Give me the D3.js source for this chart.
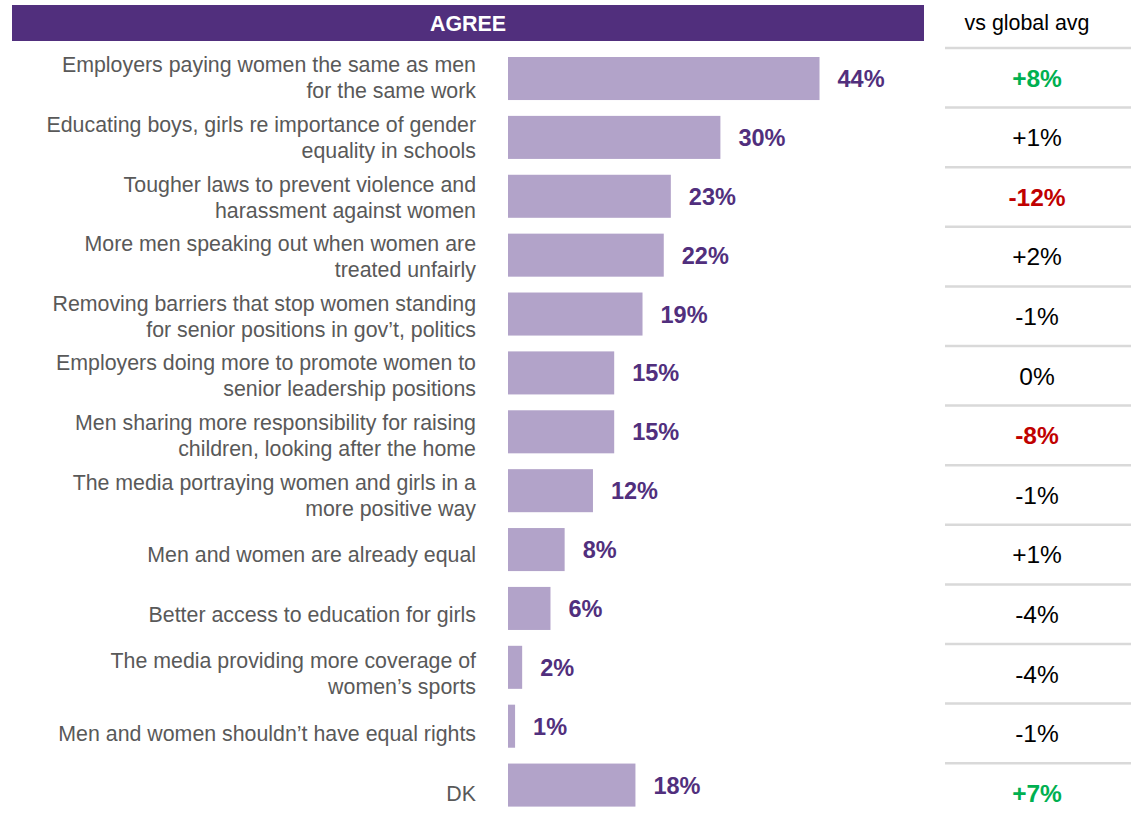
<!DOCTYPE html>
<html>
<head>
<meta charset="utf-8">
<script src="https://cdn.jsdelivr.net/npm/d3@7"></script>
<style>
  html, body { margin: 0; padding: 0; background: #ffffff; }
  svg { display: block; font-family: "Liberation Sans", Arial, sans-serif; }
</style>
</head>
<body>
<svg id="chart" width="1134" height="820"></svg>
<script>
// Survey items (line breaks mark where each label wraps)
const categories = [
  "Employers paying women the same as men\nfor the same work",
  "Educating boys, girls re importance of gender\nequality in schools",
  "Tougher laws to prevent violence and\nharassment against women",
  "More men speaking out when women are\ntreated unfairly",
  "Removing barriers that stop women standing\nfor senior positions in gov\u2019t, politics",
  "Employers doing more to promote women to\nsenior leadership positions",
  "Men sharing more responsibility for raising\nchildren, looking after the home",
  "The media portraying women and girls in a\nmore positive way",
  "Men and women are already equal",
  "Better access to education for girls",
  "The media providing more coverage of\nwomen\u2019s sports",
  "Men and women shouldn\u2019t have equal rights",
  "DK"
];

// Share agreeing (%)
const agreeValues = [44, 30, 23, 22, 19, 15, 15, 12, 8, 6, 2, 1, 18];

// Difference from the global average (percentage points)
const vsGlobal = [8, 1, -12, 2, -1, 0, -8, -1, 1, -4, -4, -1, 7];

const headerLabel = "AGREE";
const diffHeader = "vs global avg";

const svg = d3.select("#chart");
const rows = d3.range(categories.length);

// Grid for the item labels and the comparison column
const yRow = d3.scaleBand()
  .domain(rows)
  .range([48, 48 + 59.6 * categories.length]);

// Grid for the bars (slightly tighter than the label rows)
const yBar = d3.scaleBand()
  .domain(rows)
  .range([57, 806.6])
  .paddingInner(0.269)
  .paddingOuter(0);

const x = d3.scaleLinear().domain([0, 100]).range([508, 508 + 708]);

const rowMid = i => yRow(i) + yRow.bandwidth() / 2;
const barMid = i => yBar(i) + yBar.bandwidth() / 2;

// Header band
svg.append("rect")
  .attr("x", 12).attr("y", 5).attr("width", 912).attr("height", 36)
  .attr("fill", "#512f7d");
svg.append("text")
  .attr("x", 468).attr("y", 23).attr("dy", "0.36em")
  .attr("text-anchor", "middle")
  .attr("fill", "#ffffff").attr("font-weight", "bold").attr("font-size", 21.4)
  .text(headerLabel);

svg.append("text")
  .attr("x", 1027).attr("y", 22).attr("dy", "0.36em")
  .attr("text-anchor", "middle")
  .attr("fill", "#000000").attr("font-size", 21.4)
  .text(diffHeader);

// Row separators in the comparison column
svg.append("g").selectAll("line")
  .data(rows)
  .join("line")
  .attr("x1", 945).attr("x2", 1131)
  .attr("y1", i => yRow(i))
  .attr("y2", i => yRow(i))
  .attr("stroke", "#d9d9d9").attr("stroke-width", 2.5);

// Item labels
const labels = svg.append("g").selectAll("text")
  .data(categories)
  .join("text")
  .attr("text-anchor", "end")
  .attr("fill", "#595959")
  .attr("font-size", 21.35);

labels.each(function(d, i) {
  const lines = d.split("\n");
  const lh = 26;
  const top = rowMid(i) - (lines.length - 1) * lh / 2;
  d3.select(this).selectAll("tspan")
    .data(lines)
    .join("tspan")
    .attr("x", 476)
    .attr("y", (l, k) => top + k * lh)
    .attr("dy", "0.36em")
    .text(l => l);
});

// Bars
svg.append("g").selectAll("rect")
  .data(agreeValues)
  .join("rect")
  .attr("x", x(0))
  .attr("y", (d, i) => yBar(i))
  .attr("width", d => x(d) - x(0))
  .attr("height", yBar.bandwidth())
  .attr("fill", "#b2a3c9");

// Value labels
svg.append("g").selectAll("text")
  .data(agreeValues)
  .join("text")
  .attr("x", d => x(d) + 18)
  .attr("y", (d, i) => barMid(i))
  .attr("dy", "0.36em")
  .attr("fill", "#512f7d")
  .attr("font-weight", "bold")
  .attr("font-size", 23.5)
  .text(d => d + "%");

// Comparison with global average
const diffColor = d => d >= 5 ? "#00b050" : d <= -5 ? "#c00000" : "#000000";
const fmtDiff = d => (d > 0 ? "+" : "") + d + "%";

svg.append("g").selectAll("text")
  .data(vsGlobal)
  .join("text")
  .attr("x", 1037)
  .attr("y", (d, i) => rowMid(i))
  .attr("dy", "0.36em")
  .attr("text-anchor", "middle")
  .attr("fill", diffColor)
  .attr("font-weight", d => Math.abs(d) >= 5 ? "bold" : "normal")
  .attr("font-size", 24.5)
  .text(fmtDiff);
</script>
</body>
</html>
